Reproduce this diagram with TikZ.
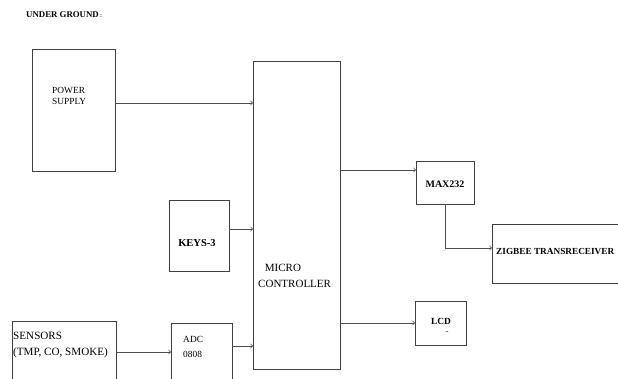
\documentclass[tikz,border=0pt]{standalone}
\usepackage{fontspec}
\setmainfont{Liberation Serif}
\usetikzlibrary{positioning}

\begin{document}
\begin{tikzpicture}[x=0.03cm, y=-0.03cm,
    blk/.style={draw=black!75, line width=0.6pt, rectangle, inner sep=0pt, outer sep=0pt},
    txt/.style={inner sep=0pt, align=left, font=\fontsize{8}{10}\selectfont},
    btxt/.style={txt, font=\fontsize{8.5}{10}\selectfont\bfseries},
    wire/.style={draw=black!70, line width=0.6pt}]
        \clip (0,0) rectangle (618,378);

        % Title
        \node[btxt, anchor=west, font=\fontsize{7.5}{9}\selectfont\bfseries] (ug) at (26,15) {UNDER GROUND\,{\fontsize{5}{5}\selectfont:}};

        % Blocks
        \node[blk, minimum width=2.49cm, minimum height=3.66cm] (ps)   at (73.5,110)  {};
        \node[blk, minimum width=2.61cm, minimum height=9.24cm] (mc)   at (296.5,215) {};
        \node[blk, minimum width=1.8cm,  minimum height=2.13cm] (keys) at (199,235.5)  {};
        \node[blk, minimum width=3.12cm, minimum height=2.37cm] (sens) at (64,360.5)  {};
        \node[blk, minimum width=1.83cm, minimum height=2.31cm] (adc)  at (201.5,361.5) {};
        \node[blk, minimum width=1.74cm, minimum height=1.29cm] (max)  at (445,182.5) {};
        \node[blk, minimum width=5.64cm, minimum height=1.77cm] (zig)  at (586,253.5) {};
        \node[blk, minimum width=1.53cm, minimum height=1.32cm] (lcd)  at (440.5,323) {};

        % Block texts
        \node[txt, anchor=west, font=\fontsize{8}{10}\selectfont] (pstext) at (52,96) {POWER\\SUPPLY};
        \node[txt, anchor=west, font=\fontsize{9.4}{13}\selectfont] (mctext) at (258,276) {\hspace{0.2cm}MICRO\\CONTROLLER};
        \node[btxt, font=\fontsize{9}{10}\selectfont\bfseries] (keystext) at (197,243) {KEYS-3};
        \node[txt, anchor=west, font=\fontsize{9.5}{13}\selectfont] (senstext) at (13,345) {SENSORS\\(TMP, CO, SMOKE)};
        \node[txt, anchor=west, font=\fontsize{8}{13.5}\selectfont] (adctext) at (183,347) {ADC\\0808};
        \node[btxt] (maxtext) at (445,184) {MAX232};
        \node[btxt, anchor=west, font=\fontsize{7.9}{10}\selectfont\bfseries] (zigtext) at (496,251) {ZIGBEE TRANSRECEIVER};
        \node[btxt, font=\fontsize{8}{10}\selectfont\bfseries] (lcdtext) at (441,321) {LCD};
        \node[btxt, font=\fontsize{5}{5}\selectfont\bfseries] (lcddots) at (447,332) {..};

        % Inputs
        \draw[wire, ->] (ps.east |- 0,103) -- (mc.west |- 0,103);
        \draw[wire, ->] (keys.east |- 0,229) -- (mc.west |- 0,229);
        \draw[wire, ->] (sens.east |- 0,352) -- (adc.west |- 0,352);
        \draw[wire, ->] (adc.east |- 0,346) -- (mc.west |- 0,346);

        % Outputs
        \draw[wire, ->] (mc.east |- 0,170) -- (max.west |- 0,170);
        \draw[wire, ->] (max.south) -- (max.south |- 0,248) -- (zig.west |- 0,248);
        \draw[wire, ->] (mc.east |- lcd) -- (lcd.west);
\end{tikzpicture}
\end{document}
